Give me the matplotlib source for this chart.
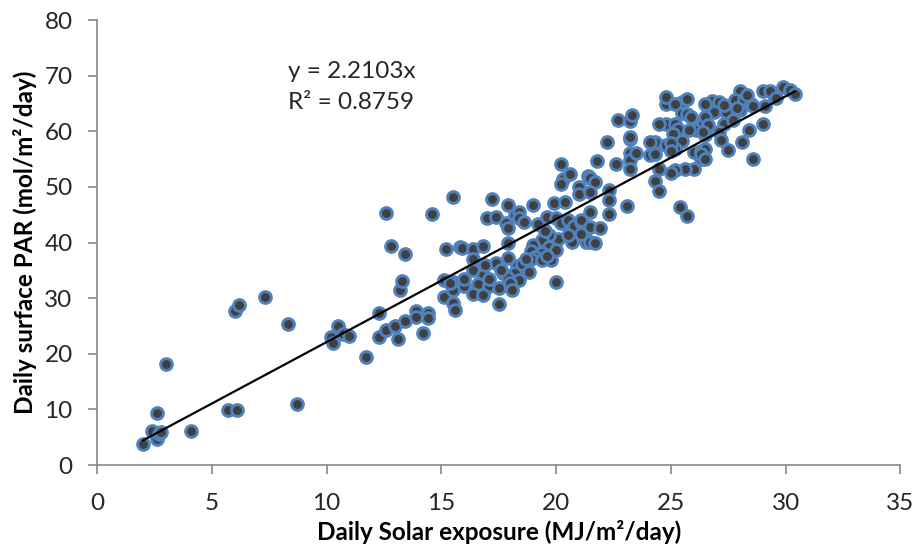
"""
Scatter of daily surface PAR against daily solar exposure, with a linear
trendline forced through zero (Excel-style chart).
"""

import numpy as np
import matplotlib
matplotlib.use("Agg")
import matplotlib.pyplot as plt

# --- Data ---
# daily solar exposure (MJ/m2/day)
solar_x = [
    # low end
    2.0, 2.4, 2.6, 2.7, 2.8, 2.6, 3.0, 4.1, 5.7, 6.1, 6.0, 6.2, 7.3, 8.3, 8.7,
    # 10 - 16
    10.2, 10.3, 10.5, 10.7, 11.0, 11.7, 12.3, 12.3, 12.6, 12.6, 12.8, 13.0, 13.1,
    13.2, 13.3, 13.4, 13.4, 13.9, 13.9, 14.2, 14.4, 14.4, 14.6, 15.1, 15.1, 15.2,
    15.5, 15.5, 15.5, 15.5, 15.6, 15.8,
    # 15 - 21, lower cloud
    15.9, 16.4, 16.8, 17.9, 16.4, 17.4, 17.9, 18.3, 18.2, 16.4, 16.8, 17.7, 17.9,
    18.4, 15.4, 16.0, 16.0, 16.6, 17.1, 17.5, 18.0, 18.1, 16.4, 16.8, 17.5, 20.0,
    16.9, 17.6, 18.5, 18.8, 17.1,
    # 17 - 21, upper cloud
    17.2, 17.9, 19.0, 19.9, 17.0, 17.4, 17.8, 17.9, 18.2, 18.4, 18.4, 18.6, 19.2,
    19.6, 20.0, 20.2, 20.5, 20.8, 21.1, 21.3, 20.7, 21.2, 21.3, 20.1, 19.7, 19.4,
    19.7, 19.4, 19.8, 19.0, 18.9, 19.1, 18.9, 18.7, 19.4, 20.4, 19.5, 20.5, 20.0,
    19.6,
    20.2, 20.3, 20.2, 20.6, 21.0, 21.0, 21.4,
    # 21 - 26
    22.7, 23.2, 23.3, 23.2, 22.2, 21.8, 22.6, 23.2, 23.2, 23.5, 23.2, 24.1, 24.3,
    24.3, 24.5, 24.3, 24.5, 23.1, 21.5, 21.7, 21.5, 22.3, 22.3, 22.3, 21.5, 21.1,
    21.5, 21.9, 21.5, 21.7, 21.1,
    24.8, 25.2, 25.3, 25.5, 25.7, 25.5, 24.8, 26.1, 26.4, 26.5, 25.1, 25.5, 25.2,
    26.0, 26.3, 26.3, 26.0, 25.6, 25.2, 25.0, 25.4, 25.7,
    24.8, 25.2, 25.7, 26.8, 25.9, 27.4, 23.2, 24.5, 24.8, 25.0, 25.0, 25.8, 24.1,
    # 26 - 30.5
    28.0, 29.0, 29.9, 30.2, 30.4, 29.5, 26.5, 27.1, 27.3, 27.8, 28.2, 28.5, 28.6,
    29.1, 28.0, 26.9, 26.5, 26.6, 26.4, 27.3, 27.7, 27.1, 27.2, 28.4, 29.0, 28.1,
    27.5, 28.6, 26.5, 26.3, 26.5, 29.3, 29.6, 28.3, 27.9,
]

# daily surface PAR (mol/m2/day)
par_y = [
    3.7, 6.1, 4.7, 5.5, 5.9, 9.4, 18.2, 6.2, 9.9, 9.9, 27.7, 28.7, 30.3, 25.4, 11.0,
    23.1, 21.9, 25.0, 23.5, 23.2, 19.5, 27.3, 23.0, 45.3, 24.3, 39.4, 25.0, 22.7,
    31.4, 33.1, 25.9, 37.9, 27.7, 26.7, 23.8, 27.4, 26.4, 45.1, 30.3, 33.3, 38.8,
    48.2, 33.0, 31.5, 29.1, 27.8, 39.2,
    39.1, 38.8, 39.4, 39.9, 37.0, 36.3, 37.3, 35.8, 34.6, 35.1, 34.2, 34.5, 33.6,
    33.3, 32.8, 32.2, 33.4, 32.5, 32.2, 31.9, 32.7, 31.5, 30.7, 30.6, 28.9, 33.0,
    36.0, 35.0, 36.2, 34.7, 33.4,
    47.8, 46.7, 46.7, 47.2, 44.4, 44.6, 43.5, 42.7, 44.9, 45.5, 44.4, 43.7, 43.4,
    44.6, 44.4, 43.6, 44.0, 43.0, 43.7, 42.8, 40.1, 41.3, 40.1, 40.6, 41.3, 40.4,
    39.2, 38.1, 36.9, 39.6, 38.4, 37.4, 37.0, 37.0, 36.9, 47.3, 42.0, 41.3, 38.6,
    37.5,
    54.1, 51.5, 50.5, 52.3, 50.0, 48.8, 52.0,
    62.1, 61.9, 62.9, 58.7, 58.1, 54.7, 54.1, 56.2, 54.8, 56.1, 53.3, 55.7, 56.0,
    58.1, 53.2, 51.1, 49.3, 46.6, 51.7, 50.9, 49.1, 49.4, 47.6, 45.2, 45.5, 44.0,
    42.8, 42.7, 40.1, 40.0, 41.6,
    61.4, 61.3, 60.5, 63.3, 63.1, 65.3, 65.0, 60.3, 61.7, 59.3, 59.6, 58.3, 56.9,
    56.3, 56.5, 55.1, 53.3, 53.2, 53.0, 52.5, 46.4, 44.8,
    66.2, 64.9, 65.8, 65.5, 62.5, 63.4, 59.0, 61.4, 57.5, 58.0, 56.5, 60.2, 58.1,
    67.3, 67.3, 67.9, 67.4, 66.7, 66.5, 65.0, 65.3, 64.7, 65.6, 65.7, 65.0, 64.5,
    64.5, 63.8, 63.5, 62.6, 61.1, 59.9, 61.4, 62.0, 59.9, 58.5, 60.2, 61.3, 58.1,
    56.6, 55.1, 56.9, 56.0, 55.0, 67.3, 66.0, 66.5, 64.2,
]

SLOPE = 2.2103
R2 = 0.8759
X_TICKS = [0, 5, 10, 15, 20, 25, 30, 35]
Y_TICKS = [0, 10, 20, 30, 40, 50, 60, 70, 80]

plt.rcParams["font.family"] = ["Lato", "DejaVu Sans"]
TEXT_COLOR = "#262626"
AXIS_COLOR = "#868686"

x = np.array(solar_x)
y = np.array(par_y)

fig = plt.figure(figsize=(9.15, 5.54), dpi=100)
ax = fig.add_axes([0.106, 0.1606, 0.878, 0.803])

ax.scatter(x, y, s=72, facecolor="#404040", edgecolor="#4f81bd",
           linewidths=2.1, zorder=3)

# trendline through origin over the data range
xt = np.array([x.min(), x.max()])
ax.plot(xt, SLOPE * xt, color="black", lw=1.6, zorder=4)

ax.text(8.3, 70.7, f"y = {SLOPE}x", fontsize=17.5, color=TEXT_COLOR, va="center")
ax.text(8.3, 65.2, f"R² = {R2}", fontsize=17.5, color=TEXT_COLOR, va="center")

ax.set_xlim(0, 35)
ax.set_ylim(0, 80)
ax.set_xticks(X_TICKS)
ax.set_yticks(Y_TICKS)

for side in ("top", "right"):
    ax.spines[side].set_visible(False)
for side in ("left", "bottom"):
    ax.spines[side].set_color(AXIS_COLOR)
    ax.spines[side].set_linewidth(1.2)

ax.tick_params(axis="both", color=AXIS_COLOR, length=6.5, width=1.2,
               labelsize=17.5, labelcolor=TEXT_COLOR)
ax.tick_params(axis="x", pad=14)
ax.tick_params(axis="y", pad=11)

ax.set_xlabel("Daily Solar exposure (MJ/m²/day)", fontsize=17.5,
              fontweight="bold", color="black", labelpad=4)
ax.set_ylabel("Daily surface PAR (mol/m²/day)", fontsize=17.5,
              fontweight="bold", color="black", labelpad=5)

fig.savefig("out.png", dpi=100)
